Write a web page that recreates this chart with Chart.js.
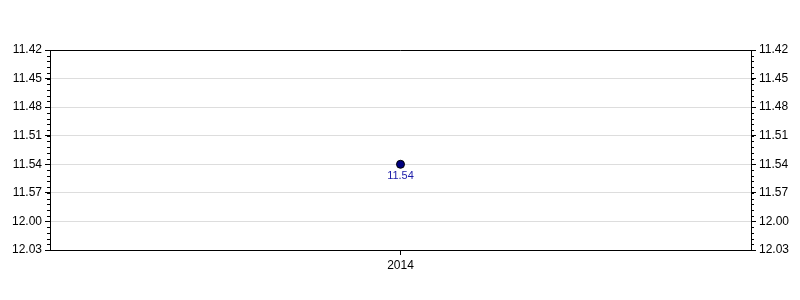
<!DOCTYPE html>
<html>
<head>
<meta charset="utf-8">
<script src="https://cdn.jsdelivr.net/npm/chart.js@4/dist/chart.umd.min.js"></script>
<style>
  html, body { margin: 0; padding: 0; background: #fff; }
</style>
</head>
<body>
<canvas id="myChart" width="800" height="300"></canvas>
<script>
// data, times are mm.ss
const years = ["2014"];
const times = ["11.54"];
const yTickLabels = ["11.42", "11.45", "11.48", "11.51", "11.54", "11.57", "12.00", "12.03"];

const toSec = (t) => {
    const parts = t.split(".");
    return parseInt(parts[0]) * 60 + parseInt(parts[1]);
};

const toLabel = (s) => {
    const m = Math.floor(s / 60);
    const sec = Math.round(s - m * 60);
    return m + "." + (sec < 10 ? "0" : "") + sec;
};

const yMin = toSec(yTickLabels[0]);
const yMax = toSec(yTickLabels[yTickLabels.length - 1]);
const yStep = toSec(yTickLabels[1]) - yMin;
const minorDiv = 5;

const font = { family: "'Liberation Sans', Arial, sans-serif", size: 12 };

const extras = {
    id: "extras",
    afterDraw(chart) {
        const ctx = chart.ctx;
        const area = chart.chartArea;
        ctx.save();
        ctx.strokeStyle = "#000";
        ctx.lineWidth = 1;

        // top border
        ctx.beginPath();
        ctx.moveTo(area.left, Math.round(area.top) + 0.5);
        ctx.lineTo(area.right, Math.round(area.top) + 0.5);
        ctx.stroke();

        // minor ticks
        const yl = chart.scales.y;
        const yr = chart.scales.y2;
        const minor = yStep / minorDiv;
        ctx.beginPath();
        for (let v = yMin; v <= yMax + 0.001; v += minor) {
            const py = Math.round(yl.getPixelForValue(v)) + 0.5;
            ctx.moveTo(yl.right - 3, py);
            ctx.lineTo(yl.right, py);
            ctx.moveTo(yr.left, py);
            ctx.lineTo(yr.left + 3, py);
        }
        ctx.stroke();

        // data labels
        const meta = chart.getDatasetMeta(0);
        ctx.fillStyle = "#1a1aa8";
        ctx.font = "11px 'Liberation Sans', Arial, sans-serif";
        ctx.textAlign = "center";
        ctx.textBaseline = "top";
        meta.data.forEach((pt, i) => {
            ctx.fillText(times[i], pt.x, pt.y + 6);
        });
        ctx.restore();
    }
};

const yAxis = (pos) => ({
    type: "linear",
    position: pos,
    reverse: true,
    min: yMin,
    max: yMax,
    afterFit: (scale) => { scale.width = pos === "left" ? 50 : 49; },
    ticks: {
        stepSize: yStep,
        color: "#000",
        font: font,
        padding: 3,
        callback: (v) => toLabel(v)
    },
    grid: {
        color: "#dddddd",
        drawOnChartArea: pos === "left",
        tickColor: "#000",
        tickLength: 5
    },
    border: { color: "#000" }
});

const ctx = document.getElementById("myChart").getContext("2d");

const myChart = new Chart(ctx, {
    type: "line",
    data: {
        labels: years,
        datasets: [{
            data: times.map(toSec),
            showLine: false,
            pointRadius: 4,
            pointBackgroundColor: "#000080",
            pointBorderColor: "#000",
            pointBorderWidth: 1
        }]
    },
    options: {
        responsive: false,
        animation: false,
        layout: { padding: { top: 50, left: 0, right: 0, bottom: 0 } },
        plugins: {
            legend: { display: false },
            tooltip: { enabled: false }
        },
        scales: {
            x: {
                offset: true,
                afterFit: (scale) => { scale.height = 50; },
                ticks: { color: "#000", font: font, padding: 3 },
                grid: {
                    drawOnChartArea: false,
                    tickColor: "#000",
                    tickLength: 5
                },
                border: { color: "#000" }
            },
            y: yAxis("left"),
            y2: yAxis("right")
        }
    },
    plugins: [extras]
});
</script>
</body>
</html>
